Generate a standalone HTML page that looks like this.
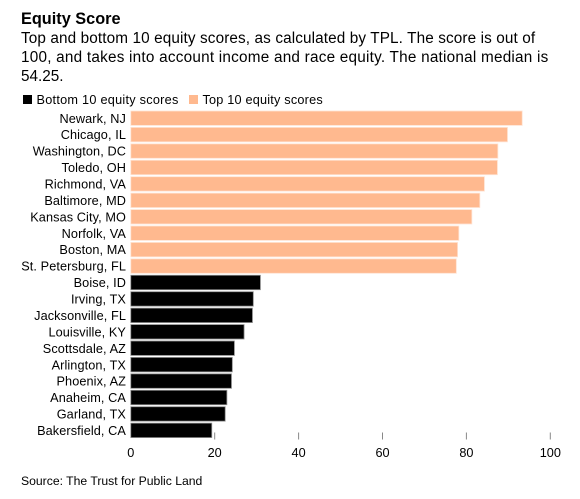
<!DOCTYPE html>
<html>
<head>
<meta charset="utf-8">
<style>
html,body{margin:0;padding:0;background:#fff;}
#wrap{position:relative;width:580px;height:499px;overflow:hidden;font-family:"Liberation Sans",sans-serif;color:#000;}
.t{position:absolute;left:21px;white-space:nowrap;}
</style>
</head>
<body>
<div id="wrap">
<div class="t" style="top:10px;font-size:16.3px;font-weight:bold;line-height:19px;">Equity Score</div>
<div class="t" style="top:29px;font-size:15.3px;line-height:19px;letter-spacing:0.12px;">Top and bottom 10 equity scores, as calculated by TPL. The score is out of</div>
<div class="t" style="top:48px;font-size:15.3px;line-height:19px;letter-spacing:0.23px;">100, and takes into account income and race equity. The national median is</div>
<div class="t" style="top:67px;font-size:15.3px;line-height:19px;">54.25.</div>
<svg id="chart" width="580" height="499" style="position:absolute;left:0;top:0;font-family:'Liberation Sans',sans-serif;" xmlns="http://www.w3.org/2000/svg">
<g id="legend">
<rect x="23" y="95" width="9" height="9" fill="#000"/>
<text x="36.500" y="104" font-size="12.7" letter-spacing="0.26">Bottom 10 equity scores</text>
<rect x="189" y="95" width="9" height="9" fill="#ffb98f"/>
<text x="202.500" y="104" font-size="12.7" letter-spacing="0.2">Top 10 equity scores</text>
</g>
<g id="bars"></g>
<g id="axis"></g>
</svg>
<div class="t" style="top:474px;font-size:12.2px;line-height:15px;">Source: The Trust for Public Land</div>
</div>
<script>
var categories = ["Newark, NJ","Chicago, IL","Washington, DC","Toledo, OH","Richmond, VA","Baltimore, MD","Kansas City, MO","Norfolk, VA","Boston, MA","St. Petersburg, FL","Boise, ID","Irving, TX","Jacksonville, FL","Louisville, KY","Scottsdale, AZ","Arlington, TX","Phoenix, AZ","Anaheim, CA","Garland, TX","Bakersfield, CA"];
var scores = [93.3,89.8,87.5,87.4,84.3,83.2,81.3,78.2,77.9,77.6,30.9,29.2,29.0,27.0,24.7,24.2,24.0,22.9,22.5,19.3];
var groups = ["top","top","top","top","top","top","top","top","top","top","bottom","bottom","bottom","bottom","bottom","bottom","bottom","bottom","bottom","bottom"];
var xTicks = [0,20,40,60,80,100];

var NS = "http://www.w3.org/2000/svg";
function xScale(v){ return 130.8 + v * 4.195; }
function yScale(i){ return 111 + i * 16.43; }
var bandH = 14.4;
var barsG = document.getElementById("bars");
var axisG = document.getElementById("axis");

categories.forEach(function(name, i){
  var isTop = groups[i] === "top";
  var r = document.createElementNS(NS, "rect");
  r.setAttribute("x", xScale(0));
  r.setAttribute("y", yScale(i));
  r.setAttribute("width", xScale(scores[i]) - xScale(0));
  r.setAttribute("height", bandH);
  r.setAttribute("fill", isTop ? "#ffb98f" : "#000");
  r.setAttribute("stroke", isTop ? "#ffe3d2" : "#8c8c8c");
  r.setAttribute("stroke-width", "0.8");
  
  
  barsG.appendChild(r);

  var t = document.createElementNS(NS, "text");
  t.setAttribute("x", 126);
  t.setAttribute("y", yScale(i) + 11.8);
  t.setAttribute("text-anchor", "end");
  t.setAttribute("font-size", "12.7");
  t.setAttribute("letter-spacing", "0.1");
  t.textContent = name;
  
  
  axisG.appendChild(t);
});

xTicks.forEach(function(v){
  if (v !== 0) {
    var l = document.createElementNS(NS, "line");
    l.setAttribute("x1", xScale(v));
    l.setAttribute("x2", xScale(v));
    l.setAttribute("y1", 432.5);
    l.setAttribute("y2", 439.5);
    l.setAttribute("stroke", "#888");
    l.setAttribute("stroke-width", "1");
    
    
    axisG.appendChild(l);
  }
  var t = document.createElementNS(NS, "text");
  t.setAttribute("x", xScale(v));
  t.setAttribute("y", 457);
  t.setAttribute("text-anchor", "middle");
  t.setAttribute("font-size", "12.7");
  t.textContent = v;
  
  
  axisG.appendChild(t);
});
</script>
</body>
</html>
